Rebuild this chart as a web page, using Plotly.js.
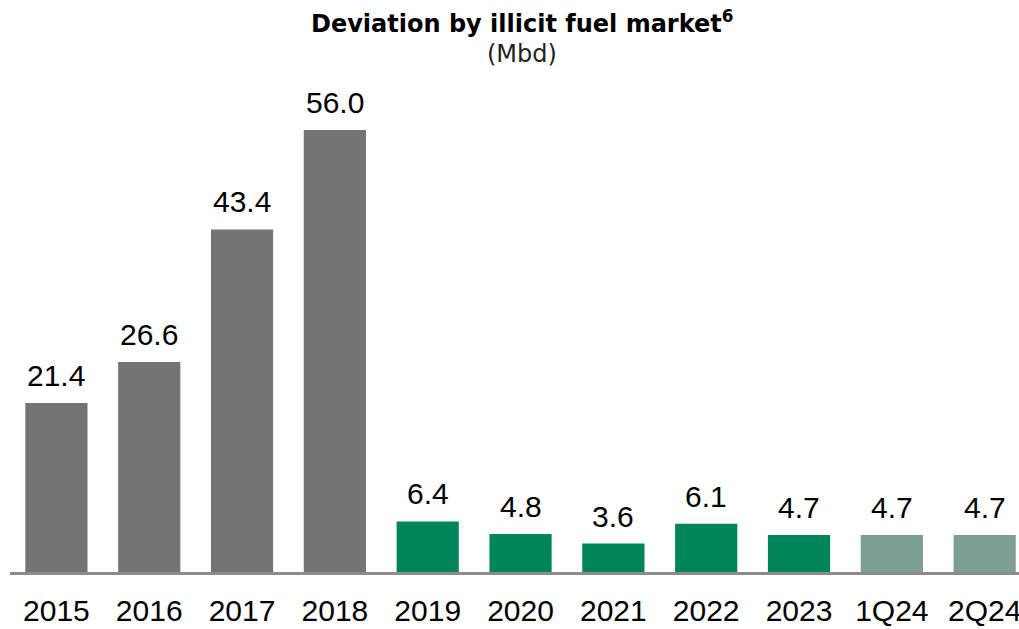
<!DOCTYPE html>
<html><head><meta charset="utf-8">
<script src="https://cdn.plot.ly/plotly-3.0.1.min.js"></script>
<style>body{margin:0;background:#fff}#chart{width:1019px;height:629px}</style>
</head><body><div id="chart"></div>
<script>
const categories = ["2015","2016","2017","2018","2019","2020","2021","2022","2023","1Q24","2Q24"];
const values = [21.4, 26.6, 43.4, 56.0, 6.4, 4.8, 3.6, 6.1, 4.7, 4.7, 4.7];
const labels = ["21.4","26.6","43.4","56.0","6.4","4.8","3.6","6.1","4.7","4.7","4.7"];
const colors = ["#737473","#737473","#737473","#737473","#00845a","#00845a","#00845a","#00845a","#00845a","#7d9e93","#7d9e93"];

const trace = {
  type: "bar", x: categories, y: values,
  marker: {color: colors, line: {width: 0}}, width: 0.67, hoverinfo: "none"
};
// category axis: annotation x given as category index
const valueAnnotations = categories.map((c, i) => ({
  x: i, y: values[i], text: labels[i], xref: "x", yref: "y",
  xanchor: "center", yanchor: "bottom", yshift: 9, showarrow: false,
  font: {family: "Liberation Sans, Arial, sans-serif", size: 30, color: "#000"}
}));
const layout = {
  width: 1019, height: 629, margin: {l: 10, r: 0, t: 80, b: 57},
  paper_bgcolor: "#fff", plot_bgcolor: "#fff", showlegend: false,
  xaxis: {type: "category", range: [-0.5, 10.37], showline: true, linecolor: "#8c8c8c", linewidth: 3,
    ticks: "", showgrid: false, zeroline: false, ticklabelstandoff: 10,
    tickfont: {family: "Liberation Sans, Arial, sans-serif", size: 30, color: "#000"}},
  yaxis: {range: [0, 62.33], visible: false, showgrid: false, zeroline: false},
  annotations: valueAnnotations.concat([
    {text: "<b>Deviation by illicit fuel market<sup>6</sup></b>", xref: "paper", yref: "paper",
     x: 0.5, y: 1, xanchor: "center", yanchor: "middle", showarrow: false, xshift: 7, yshift: 80 - 22,
     font: {family: "DejaVu Sans, sans-serif", size: 24, color: "#000"}},
    {text: "(Mbd)", xref: "paper", yref: "paper", x: 0.5, y: 1, xshift: 7, yshift: 80 - 54,
     xanchor: "center", yanchor: "middle", showarrow: false,
     font: {family: "DejaVu Sans, sans-serif", size: 24, color: "#222"}}
  ])
};
Plotly.newPlot("chart", [trace], layout, {displayModeBar: false, staticPlot: true});
</script></body></html>
